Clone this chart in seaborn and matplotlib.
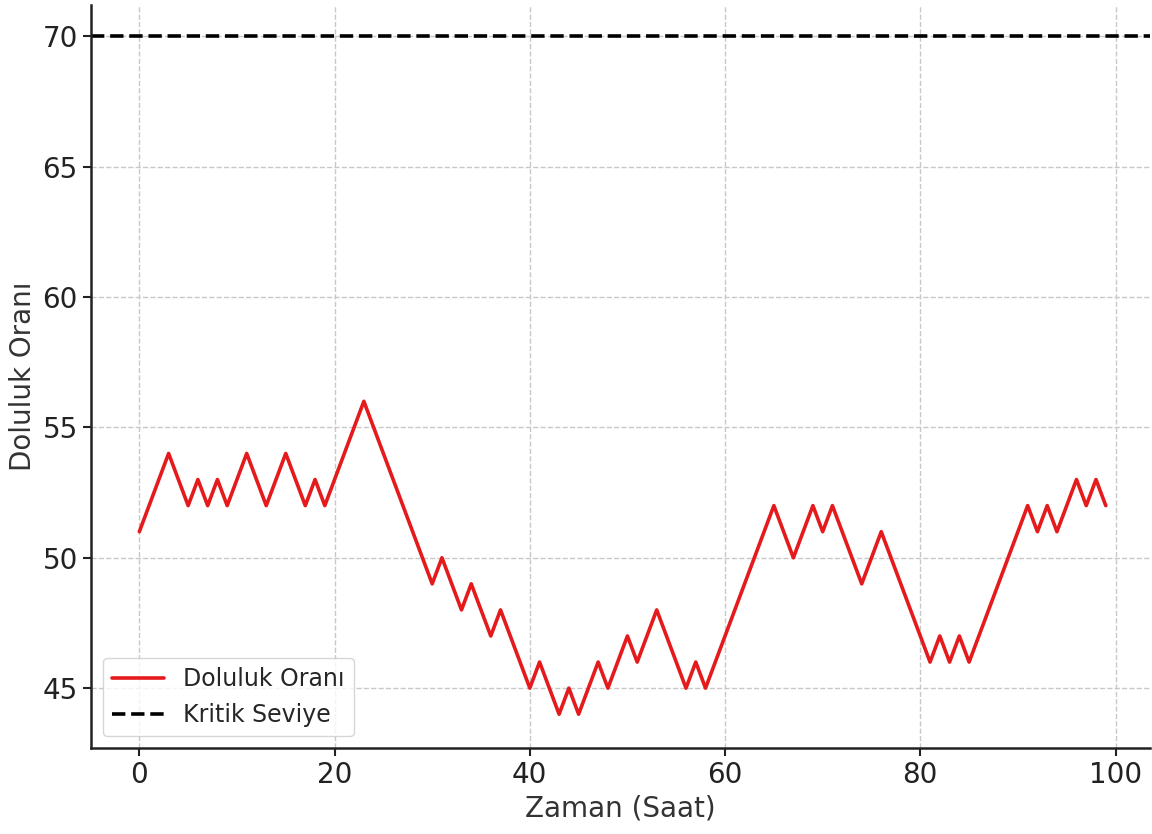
import numpy as np
import pandas as pd
import matplotlib
matplotlib.use("Agg")
import matplotlib.pyplot as plt
import seaborn as sns

# saat ve doluluk orani
hours = list(range(100))
occupancy = [51, 52, 53, 54, 53, 52, 53, 52, 53, 52,
             53, 54, 53, 52, 53, 54, 53, 52, 53, 52,
             53, 54, 55, 56, 55, 54, 53, 52, 51, 50,
             49, 50, 49, 48, 49, 48, 47, 48, 47, 46,
             45, 46, 45, 44, 45, 44, 45, 46, 45, 46,
             47, 46, 47, 48, 47, 46, 45, 46, 45, 46,
             47, 48, 49, 50, 51, 52, 51, 50, 51, 52,
             51, 52, 51, 50, 49, 50, 51, 50, 49, 48,
             47, 46, 47, 46, 47, 46, 47, 48, 49, 50,
             51, 52, 51, 52, 51, 52, 53, 52, 53, 52]
critical_level = 70


def main():
    sns.set_style("ticks")
    plt.rcParams["font.family"] = ["DejaVu Sans"]

    df = pd.DataFrame({"Saat": hours, "Doluluk": occupancy})

    fig = plt.figure(figsize=(11.52, 8.34), dpi=100)
    ax = fig.add_axes([0.079, 0.103, 0.919, 0.891])

    sns.lineplot(data=df, x="Saat", y="Doluluk", color="#e41a1c",
                 linewidth=2.6, label="Doluluk Oranı", ax=ax)
    ax.axhline(critical_level, color="black", linestyle="--",
               linewidth=2.6, label="Kritik Seviye")

    ax.set_xlim(-4.95, 103.5)
    ax.set_ylim(42.7, 71.2)
    ax.set_yticks([45, 50, 55, 60, 65, 70])
    ax.set_xticks([0, 20, 40, 60, 80, 100])

    ax.grid(True, linestyle="--", color="#c8c8c8", linewidth=1)
    ax.set_axisbelow(True)
    sns.despine(ax=ax)
    for s in ["left", "bottom"]:
        ax.spines[s].set_linewidth(1.8)
        ax.spines[s].set_color("#222222")

    ax.tick_params(labelsize=20, length=6, width=1.5, colors="#222222")
    ax.set_xlabel("Zaman (Saat)", fontsize=20, color="#333333")
    ax.set_ylabel("Doluluk Oranı", fontsize=20, color="#333333")

    ax.legend(loc="lower left", fontsize=17, frameon=True, handlelength=2.2)

    fig.savefig("out.png", dpi=100)


if __name__ == "__main__":
    main()
